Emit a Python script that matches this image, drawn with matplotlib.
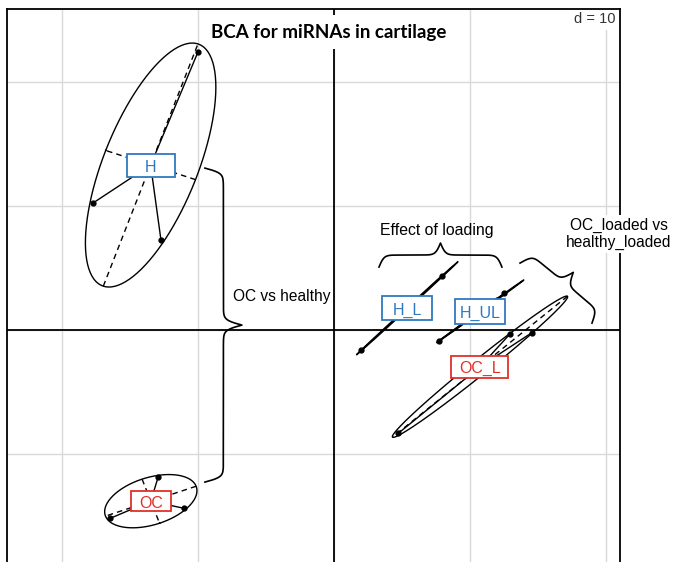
import numpy as np
import matplotlib.pyplot as plt
from matplotlib.patches import Rectangle

# BCA scores of the samples (axis 1, axis 2), one small list per class
h_x = [-10.0, -17.72, -12.72]
h_y = [22.42, 10.24, 7.26]
oc_x = [-12.92, -16.47, -11.01]
oc_y = [-11.83, -15.19, -14.38]
hl_x = [7.91, 2.01, 6.24]
hl_y = [4.35, -1.62, 2.54]
hul_x = [12.53, 7.75, 11.98]
hul_y = [2.96, -0.85, 2.42]
ocl_x = [12.94, 14.54, 4.73]
ocl_y = [-0.32, -0.22, -8.33]

class_names = ["H", "OC", "H_L", "H_UL", "OC_L"]
class_x = [h_x, oc_x, hl_x, hul_x, ocl_x]
class_y = [h_y, oc_y, hl_y, hul_y, ocl_y]
class_colors = ["#2f78c0", "#e0302a", "#2f78c0", "#2f78c0", "#e0302a"]
grid_step = 10

# label box sizes in pixels
box_w = [48, 40, 50, 50, 57]
box_h = [23, 20, 24, 25, 22]

sans = ["Liberation Sans", "DejaVu Sans"]

fig = plt.figure(figsize=(6.73, 5.62), dpi=100)
ax = fig.add_axes([7 / 673, -8 / 562, 613 / 673, 561 / 562])

ticks = np.arange(-20, 21, grid_step)
ax.set_xticks(ticks)
ax.set_yticks(ticks[1:])
ax.set_xlim(-24.04, 21.03)
ax.set_ylim(-19.35, 25.89)
ax.tick_params(length=0, labelbottom=False, labelleft=False)
ax.grid(True, color="#d9d9d9", lw=1.0)
ax.set_axisbelow(True)
for sp in ax.spines.values():
    sp.set_linewidth(1.3)
ax.axhline(0, color="black", lw=1.3, zorder=1)
ax.axvline(0, color="black", lw=1.3, zorder=1)


def class_ellipse(x, y, coeff=1.5, n=200):
    x = np.asarray(x)
    y = np.asarray(y)
    cov = np.cov(np.vstack([x, y]), bias=True)
    vals, vecs = np.linalg.eigh(cov)
    half = coeff * np.sqrt(np.clip(vals, 0, None))
    t = np.linspace(0, 2 * np.pi, n)
    pts = vecs @ (half[:, None] * np.vstack([np.cos(t), np.sin(t)]))
    return x.mean(), y.mean(), pts, half, vecs


fig.canvas.draw()
sx, sy = ax.transData.transform((1, 1)) - ax.transData.transform((0, 0))

for name, xs, ys, col, bw, bh in zip(class_names, class_x, class_y, class_colors, box_w, box_h):
    cx, cy, pts, half, vecs = class_ellipse(xs, ys)
    ax.plot(cx + pts[0], cy + pts[1], color="black", lw=1.0, zorder=3)
    for k in range(2):
        a = half[k] * vecs[:, k]
        ax.plot([cx - a[0], cx + a[0]], [cy - a[1], cy + a[1]], color="black",
                lw=1.0, ls=(0, (4, 3)), zorder=3)
    for px, py in zip(xs, ys):
        ax.plot([cx, px], [cy, py], color="black", lw=1.0, zorder=3)
    ax.plot(xs, ys, "o", color="black", ms=3.5, zorder=4)
    ax.add_patch(Rectangle((cx - bw / 2 / sx, cy - bh / 2 / sy), bw / sx, bh / sy,
                           facecolor="white", edgecolor=col, lw=1.3, zorder=5))
    ax.text(cx, cy - 2 / sy, name, color=col, fontsize=11.5, family=sans,
            ha="center", va="center", zorder=6)


def brace(p0, p1, h, k=0.4):
    d0, d1 = ax.transData.transform([p0, p1])
    L = np.hypot(*(d1 - d0))
    u = (d1 - d0) / L
    v = np.array([-u[1], u[0]])
    t = np.linspace(0, L / 2, 150)
    s = 1 / (1 + np.exp(-k * (t - t[0]))) + 1 / (1 + np.exp(-k * (t - t[-1]))) - 0.5
    tt = np.concatenate([t, L - t[::-1]])
    ss = np.concatenate([s, s[::-1]]) * h
    pts = d0 + np.outer(tt, u) + np.outer(ss, v)
    data = ax.transData.inverted().transform(pts)
    ax.plot(data[:, 0], data[:, 1], color="black", lw=1.2, zorder=3, clip_on=False)


brace((-9.49, 13.06), (-9.49, -12.26), 37)
brace((3.31, 5.08), (12.35, 5.08), 24)
brace((13.68, 5.40), (18.97, 0.56), 27)

ax.text(-7.43, 2.74, "OC vs healthy", fontsize=11.2, family=sans,
        ha="left", va="center", zorder=6)
ax.text(7.57, 8.06, "Effect of loading", fontsize=11.4, family=sans,
        ha="center", va="center", zorder=6)
ax.text(20.96, 7.74, "OC_loaded vs\nhealthy_loaded", fontsize=11.2, family=sans,
        ha="center", va="center", linespacing=1.2, zorder=6, clip_on=False,
        bbox=dict(boxstyle="square,pad=0.15", fc="white", ec="none"))

ax.text(0.524, 0.959, "BCA for miRNAs in cartilage", transform=ax.transAxes,
        fontsize=13.5, fontweight="bold", family=["Lato", "DejaVu Sans"],
        ha="center", va="center", zorder=2.2,
        bbox=dict(boxstyle="square,pad=0.45", fc="white", ec="none"))
ax.text(0.993, 0.982, "d = 10", transform=ax.transAxes, fontsize=10.5,
        family=sans, color="#333333", ha="right", va="center", zorder=2.2,
        bbox=dict(boxstyle="square,pad=0.3", fc="white", ec="none"))

fig.savefig("out.png", dpi=100)
